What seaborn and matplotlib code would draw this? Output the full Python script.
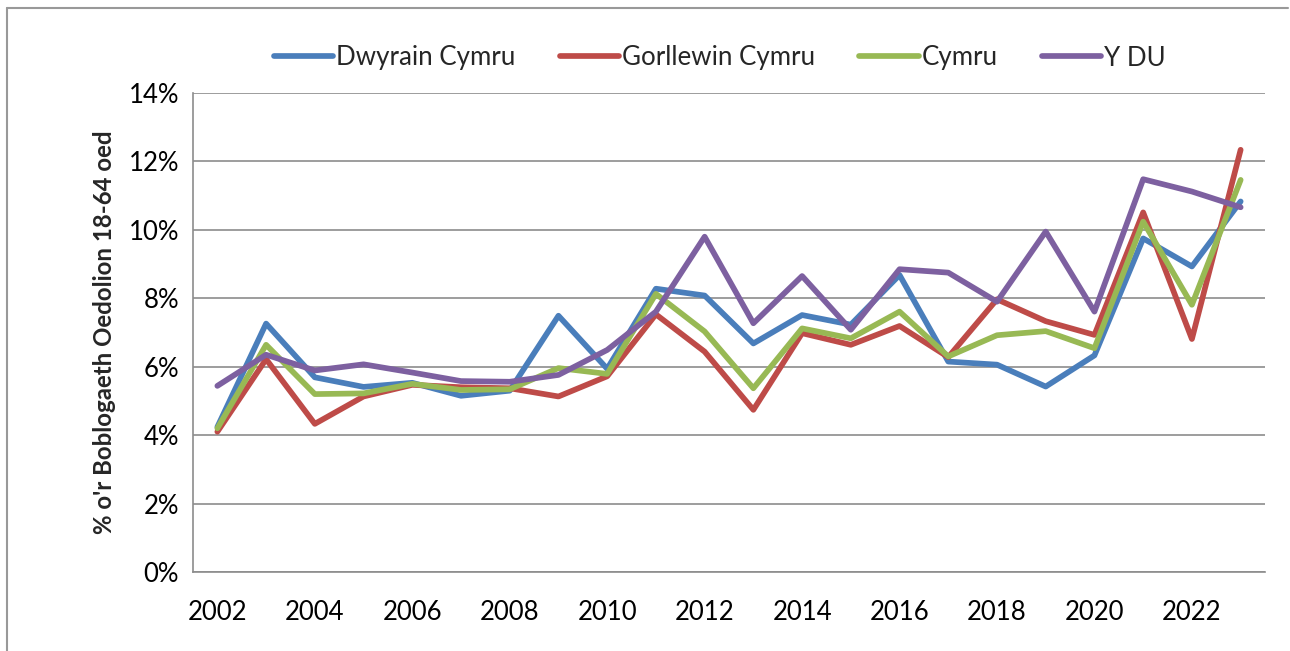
import matplotlib
matplotlib.use('Agg')

import numpy as np
import pandas as pd
import matplotlib.pyplot as plt
import seaborn as sns
from matplotlib.ticker import FixedLocator, PercentFormatter

# Data (% of adult population 18-64)
years = list(range(2002, 2024))
dwyrain_cymru = [4.24, 7.26, 5.69, 5.41, 5.53, 5.15, 5.30, 7.49, 5.94, 8.28, 8.08,
                 6.68, 7.51, 7.23, 8.68, 6.15, 6.06, 5.42, 6.33, 9.75, 8.93, 10.83]
gorllewin_cymru = [4.10, 6.22, 4.33, 5.13, 5.47, 5.40, 5.37, 5.13, 5.72, 7.53, 6.44,
                   4.74, 6.98, 6.64, 7.19, 6.28, 7.97, 7.33, 6.93, 10.51, 6.81, 12.34]
cymru = [4.20, 6.64, 5.20, 5.22, 5.50, 5.32, 5.34, 5.96, 5.79, 8.13, 7.03,
         5.37, 7.12, 6.83, 7.61, 6.30, 6.92, 7.04, 6.54, 10.24, 7.81, 11.46]
y_du = [5.44, 6.35, 5.89, 6.07, 5.83, 5.58, 5.56, 5.76, 6.49, 7.61, 9.80,
        7.27, 8.65, 7.08, 8.85, 8.75, 7.90, 9.95, 7.61, 11.48, 11.12, 10.66]

series_names = ["Dwyrain Cymru", "Gorllewin Cymru", "Cymru", "Y DU"]
series_colors = ["#4A7EBB", "#BE4B48", "#98B954", "#7D60A0"]

df = pd.DataFrame({
    "Blwyddyn": years * 4,
    "Gwerth": dwyrain_cymru + gorllewin_cymru + cymru + y_du,
    "Ardal": sum([[n] * len(years) for n in series_names], []),
})

sns.set_style("white")
plt.rcParams['font.family'] = ['Lato', 'DejaVu Sans']

fig = plt.figure(figsize=(12.9, 6.51), dpi=100)
ax = fig.add_axes([193 / 1290, 1 - 572 / 651, (1265 - 193) / 1290, (572 - 93) / 651])

grid_col = "#8C8C8C"

sns.lineplot(data=df, x="Blwyddyn", y="Gwerth", hue="Ardal",
             hue_order=series_names, palette=series_colors,
             linewidth=4.1, ax=ax, legend=True, zorder=3)

ax.set_xlim(2001.5, 2023.5)
ax.set_ylim(0, 14)
ax.yaxis.set_major_locator(FixedLocator(np.arange(0, 15, 2)))
ax.yaxis.set_major_formatter(PercentFormatter(decimals=0))
ax.xaxis.set_major_locator(FixedLocator(np.arange(2002, 2023, 2)))
ax.xaxis.set_minor_locator(FixedLocator(np.arange(2001.5, 2024, 1)))

ax.grid(axis="y", color=grid_col, linewidth=1.2, zorder=0)
ax.grid(axis="x", visible=False)
for side in ["top", "right"]:
    ax.spines[side].set_visible(False)
for side in ["left", "bottom"]:
    ax.spines[side].set_color(grid_col)
    ax.spines[side].set_linewidth(1.2)

ax.tick_params(axis="x", which="major", length=0, pad=20, labelsize=18.5, labelcolor="black")
ax.tick_params(axis="x", which="minor", length=7, width=1.2, color=grid_col, direction="out")
ax.tick_params(axis="y", length=7, width=1.2, color=grid_col, direction="out",
               pad=3, labelsize=18.5, labelcolor="black")

ax.set_xlabel("")
ax.set_ylabel("% o'r Boblogaeth Oedolion 18-64 oed", fontsize=17.3,
              fontweight="bold", labelpad=9)

handles, labels = ax.get_legend_handles_labels()
ax.legend(handles, labels, ncol=4, loc="center", frameon=False,
          bbox_to_anchor=(720 / 1290, 1 - 58 / 651), bbox_transform=fig.transFigure,
          fontsize=18.6, handlelength=2.3, handletextpad=0.12, columnspacing=1.7)

# chart area border (top and left visible in the source image)
fig.add_artist(plt.Line2D([7 / 1290, 7 / 1290], [0, 1 - 8 / 651],
                          transform=fig.transFigure, color="#999999", linewidth=1.5))
fig.add_artist(plt.Line2D([7 / 1290, 1288 / 1290], [1 - 8 / 651, 1 - 8 / 651],
                          transform=fig.transFigure, color="#999999", linewidth=1.5))

fig.savefig("out.png", dpi=100)
